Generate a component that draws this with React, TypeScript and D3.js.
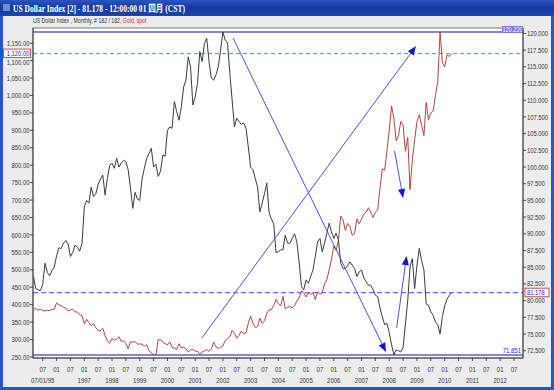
import React from 'react';
import * as d3 from 'd3';

// first bar = Mar 1995 (months counted from Jan 1995)
const firstMonth = 2;

const usdIndex = [
  83.6, 81.8, 81.6, 81.5, 82.4, 85.6, 84.2, 83.7, 84.5, 85.0,
  86.7, 87.9, 87.8, 88.6, 89.0, 88.5, 86.6, 87.2, 88.3, 88.0, 87.4, 88.5,
  94.0, 95.0, 94.6, 97.0, 95.6, 96.0, 97.4, 98.2, 98.8, 95.8, 98.3, 100.2,
  100.6, 99.8, 101.3, 100.0, 100.6, 101.0, 100.8, 99.6, 96.8, 93.8, 96.2, 95.2,
  95.0, 98.2, 99.8, 101.3, 102.0, 102.8, 100.0, 100.4, 98.6, 99.4, 101.8, 101.6,
  105.5, 106.0, 105.8, 109.8, 108.3, 107.0, 109.0, 112.0, 113.0, 116.5, 115.0, 109.3,
  110.5, 112.5, 117.3, 115.8, 118.5, 119.3, 115.8, 113.3, 113.0, 113.8, 115.0, 117.5,
  120.22, 119.0, 118.6, 114.0, 110.0, 106.0, 107.3, 106.8, 106.4, 106.6, 105.8, 103.0,
  100.0, 99.6, 98.3, 97.0, 93.3, 94.6, 96.0, 97.6, 93.2, 92.2, 91.5, 87.2,
  87.3, 87.6, 87.6, 89.8, 88.6, 88.6, 89.3, 90.0, 88.8, 85.8, 82.1, 81.6,
  83.1, 82.6, 83.6, 84.6, 86.6, 88.8, 89.3, 87.3, 88.6, 90.1, 91.6, 90.3,
  89.3, 90.1, 89.1, 85.6, 84.8, 84.8, 85.3, 85.8, 85.3, 84.8, 83.6, 84.3,
  84.6, 83.4, 82.8, 82.3, 82.3, 81.6, 80.8, 80.6, 78.9, 77.6, 76.4, 76.6,
  75.2, 73.4, 71.851, 72.6, 72.5, 72.3, 73.0, 76.5, 80.0, 85.0, 86.3, 81.8,
  85.3, 87.8, 86.0, 84.6, 79.5, 79.3, 78.3, 77.8, 76.8, 76.4, 75.0, 77.6,
  79.2, 80.2, 80.8, 81.178,
];

const goldSpot = [
  386, 389, 384, 387, 383, 382, 384, 383, 386, 387,
  405, 400, 397, 392, 390, 382, 385, 387, 379, 379, 371, 369,
  345, 358, 348, 340, 345, 334, 326, 325, 332, 311, 296, 289,
  303, 298, 301, 308, 294, 297, 288, 273, 294, 292, 294, 287,
  287, 287, 280, 286, 268, 261, 257, 255.6, 299, 300, 292, 288,
  285, 293, 278, 275, 272, 288, 276, 278, 274, 264, 270, 272,
  266, 267, 258, 264, 267, 271, 266, 273, 293, 279, 275, 277,
  282, 297, 302, 308, 326, 318, 304, 312, 324, 317, 319, 347,
  367, 347, 334, 337, 361, 346, 354, 375, 385, 386, 398, 415,
  403, 396, 424, 388, 393, 394, 391, 397, 410, 420, 440, 435,
  422, 435, 428, 435, 415, 437, 430, 434, 460, 472, 500, 530,
  568, 556, 583, 654, 643, 613, 633, 624, 599, 604, 646, 632,
  645, 660, 665, 678, 665, 650, 665, 672, 735, 790, 785, 840,
  900, 970, 935, 870, 885, 925, 915, 840, 880, 730, 815, 872,
  925, 945, 915, 885, 980, 930, 950, 955, 1000, 1040, 1182, 1095,
  1082, 1116, 1112, 1120,
];

const goldTicks = [250, 300, 350, 400, 450, 500, 550, 600, 650, 700, 750, 800, 850, 900, 950, 1000, 1050, 1100, 1150];
const usdTicks = [72.5, 75, 77.5, 80, 82.5, 85, 87.5, 90, 92.5, 95, 97.5, 100, 102.5, 105, 107.5, 110, 112.5, 115, 117.5, 120];

const goldMark = 1120;
const usdMark = 81.178;

// trend arrows drawn on the chart: [month index, value]
const arrows = [
  { axis: 'usd', from: [88.4, 119.32], to: [154.6, 72.3] },
  { axis: 'gold', from: [74.8, 303.5], to: [167.6, 1141.8] },
  { axis: 'gold', from: [158.3, 840.7], to: [162.0, 705.9] },
  { axis: 'usd', from: [159.2, 75.9], to: [163.5, 86.68] },
];

const xTickMonths = d3.range(6, 211, 6);

const FONT = "'Liberation Sans', Arial, sans-serif";

function STxt({ x, y, sx = 0.78, anchor = 'start', size = 8, fill = '#333', children, ...rest }: any) {
  return (
    <text
      transform={`translate(${x},${y}) scale(${sx},1)`}
      textAnchor={anchor}
      fontSize={size}
      fontFamily={FONT}
      fill={fill}
      {...rest}
    >
      {children}
    </text>
  );
}

export default function App() {
  const W = 554, H = 390;
  const L = 33, R = 523, T = 28, B = 358;
  const yLow = 355, yHigh = 32;

  const x = d3.scaleLinear().domain([1.8, 213.9]).range([L, R]);
  const [gMin, gMax] = d3.extent(goldSpot) as [number, number];
  const [uMin, uMax] = d3.extent(usdIndex) as [number, number];
  const yGold = d3.scaleLinear().domain([gMin, gMax]).range([yLow, yHigh]);
  const yUsd = d3.scaleLinear().domain([uMin, uMax]).range([yLow, yHigh]);

  const usdPath = d3.line<number>().x((_, i) => x(firstMonth + i)).y((d) => yUsd(d))(usdIndex) || '';
  const goldPath = d3.line<number>().x((_, i) => x(firstMonth + i)).y((d) => yGold(d))(goldSpot) || '';

  const fmtGold = d3.format(',.2f');
  const fmtUsd = d3.format('.3f');

  const arrowEls = arrows.map((a, i) => {
    const ys = a.axis === 'usd' ? yUsd : yGold;
    const x1 = x(a.from[0]), y1 = ys(a.from[1]);
    const x2 = x(a.to[0]), y2 = ys(a.to[1]);
    const ang = Math.atan2(y2 - y1, x2 - x1);
    const len = 9, hw = 3.6;
    const bx = x2 - len * Math.cos(ang), by = y2 - len * Math.sin(ang);
    const px = -Math.sin(ang) * hw, py = Math.cos(ang) * hw;
    return (
      <g key={i}>
        <line x1={x1} y1={y1} x2={bx} y2={by} stroke="#5252d6" strokeWidth={1} />
        <polygon points={`${x2},${y2} ${bx + px},${by + py} ${bx - px},${by - py}`} fill="#1414d2" />
      </g>
    );
  });

  const markY = yGold(goldMark);

  return (
    <svg width={W} height={H} style={{ position: 'absolute', left: 0, top: 0, display: 'block' }}>
      <defs>
        <linearGradient id="tb" x1="0" y1="0" x2="0" y2="1">
          <stop offset="0" stopColor="#2a55c0" />
          <stop offset="0.5" stopColor="#153a9e" />
          <stop offset="1" stopColor="#1c44b0" />
        </linearGradient>
      </defs>
      {/* window frame */}
      <rect x={0} y={0} width={W} height={H} fill="#2456c8" />
      <rect x={0} y={0} width={W} height={16} fill="url(#tb)" />
      <rect x={3} y={16} width={W - 6} height={H - 19} fill="#ececec" />
      <rect x={3} y={4} width={7} height={7} fill="#8fb0e8" opacity={0.7} />
      <text x={13} y={11.5} fill="#ffffff" fontWeight="bold" fontSize={10}
        fontFamily="'Liberation Serif', 'Noto Sans CJK TC', serif" textLength={172} lengthAdjust="spacingAndGlyphs">
        US Dollar Index [2] - 81.178 - 12:00:00 01 四月 (CST)
      </text>
      <text transform="translate(33,22.5) scale(0.69,1)" fontSize={7.5} fontFamily={FONT} fill="#333">
        <tspan>US Dollar Index , Monthly, # 182 / 182, </tspan>
        <tspan fill="#d03030">Gold, spot</tspan>
      </text>

      {/* plot area */}
      <rect x={L} y={T} width={R - L} height={B - T} fill="#ffffff" stroke="#777" strokeWidth={1} />

      {/* reference lines */}
      <line x1={L} x2={R} y1={yUsd(uMax)} y2={yUsd(uMax)} stroke="#5c5cd8" strokeWidth={1.3} />
      <line x1={L} x2={R} y1={yUsd(uMin)} y2={yUsd(uMin)} stroke="#5c5cd8" strokeWidth={1.3} />
      <line x1={L} x2={R} y1={markY} y2={markY} stroke="#3fa58a" strokeWidth={1} strokeDasharray="4,3" />
      <line x1={L} x2={R} y1={yUsd(usdMark)} y2={yUsd(usdMark)} stroke="#4a4ae0" strokeWidth={1} strokeDasharray="5,3" />

      {/* series */}
      <path d={goldPath} fill="none" stroke="#b04545" strokeWidth={1} />
      <path d={usdPath} fill="none" stroke="#3c3c3c" strokeWidth={1} />

      {arrowEls}

      {/* max / min labels */}
      <rect x={502} y={26} width={21} height={7} fill="#7a7ae4" />
      <STxt x={512.5} y={32.3} anchor="middle" size={7} sx={0.8} fill="#ffffff">{fmtUsd(uMax)}</STxt>
      <STxt x={521} y={353} anchor="end" size={7.5} sx={0.8} fill="#2a2ad0">{fmtUsd(uMin)}</STxt>

      {/* axes */}
      <line x1={L} x2={L} y1={T} y2={B} stroke="#444" />
      <line x1={R} x2={R} y1={T} y2={B} stroke="#444" />
      <line x1={L} x2={R} y1={B} y2={B} stroke="#444" />

      {goldTicks.map((v) => {
        const ty = yGold(v);
        const shift = Math.abs(ty - markY) < 9 && ty > markY ? 2 : Math.abs(ty - markY) < 9 ? -2 : 0;
        return (
          <g key={'g' + v}>
            <line x1={L - 3} x2={L} y1={ty} y2={ty} stroke="#444" />
            <STxt x={L - 3.5} y={ty + 2.6 + shift} anchor="end" size={7.5}>{fmtGold(v)}</STxt>
          </g>
        );
      })}
      <rect x={3.5} y={markY - 4.5} width={27} height={8.5} fill="#ffffff" stroke="#e04848" strokeWidth={1} />
      <STxt x={29.5} y={markY + 2.5} anchor="end" size={7.5} fill="#2020d8">{fmtGold(goldMark)}</STxt>

      {usdTicks.map((v) => (
        <g key={'u' + v}>
          <line x1={R} x2={R + 3} y1={yUsd(v)} y2={yUsd(v)} stroke="#444" />
          <STxt x={R + 4} y={yUsd(v) + 2.6} size={7.5}>{fmtUsd(v)}</STxt>
        </g>
      ))}
      <rect x={R + 2} y={yUsd(usdMark) - 4.5} width={24} height={8.5} fill="#ffffff" stroke="#e04848" strokeWidth={1} />
      <STxt x={R + 4} y={yUsd(usdMark) + 2.5} size={7.5} fill="#2020d8">{fmtUsd(usdMark)}</STxt>

      {xTickMonths.map((m) => {
        const label = m % 12 === 6 ? '07' : '01';
        const year = m === 6 ? '07/01/95' : m % 12 === 0 && m >= 24 ? String(1995 + m / 12) : '';
        return (
          <g key={'x' + m}>
            <line x1={x(m)} x2={x(m)} y1={B} y2={B + 3} stroke="#444" />
            <STxt x={x(m)} y={371.5} anchor="middle" size={7.5} sx={0.8}>{label}</STxt>
            {year && <STxt x={x(m)} y={382.5} anchor="middle" size={7.5} sx={0.8}>{year}</STxt>}
          </g>
        );
      })}
    </svg>
  );
}
